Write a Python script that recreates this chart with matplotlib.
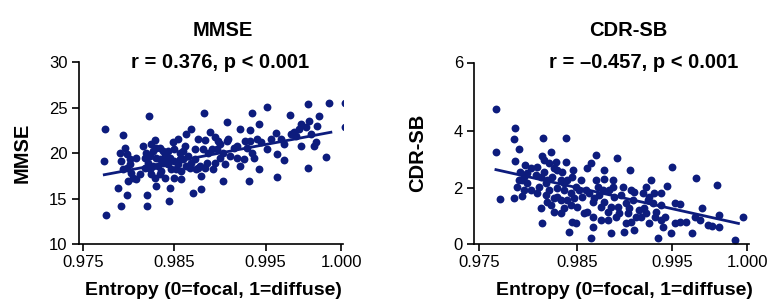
import numpy as np
import matplotlib
matplotlib.use("Agg")
import matplotlib.pyplot as plt
from matplotlib import font_manager

plt.rcParams['font.family'] = ['Liberation Sans', 'DejaVu Sans']
# tick labels in the reference are a condensed face
installed = {f.name for f in font_manager.fontManager.ttflist}
tick_font = 'Liberation Sans Narrow' if 'Liberation Sans Narrow' in installed else 'Liberation Sans'
tick_size = 13.5 if tick_font == 'Liberation Sans Narrow' else 12

# ---- data ----
mmse_x = [0.97742, 0.97735, 0.97753, 0.97940, 0.97922, 0.97977, 0.97886, 0.97904, 0.97958, 0.97922,
          0.97977, 0.98013, 0.97940, 0.97995, 0.98085, 0.98031, 0.98222, 0.98200, 0.98200, 0.98193,
          0.98211, 0.98229, 0.98247, 0.98283, 0.98301, 0.98319, 0.98283, 0.98301, 0.98338, 0.98374,
          0.98356, 0.98410, 0.98428, 0.98446, 0.98439, 0.98482, 0.98500, 0.98519, 0.98537, 0.98556,
          0.98574, 0.98593, 0.98611, 0.98622, 0.98630, 0.98685, 0.98704, 0.98722, 0.98759, 0.98796,
          0.98796, 0.98826, 0.98833, 0.98815, 0.98852, 0.98889, 0.98926, 0.98963, 0.98981, 0.99000,
          0.99037, 0.99074, 0.99092, 0.99111, 0.99222, 0.99222, 0.99259, 0.99314, 0.99333, 0.99352,
          0.99352, 0.99407, 0.99426, 0.99426, 0.99507, 0.99566, 0.99572, 0.99577, 0.99621, 0.99621,
          0.99660, 0.99686, 0.99730, 0.99734, 0.99778, 0.99785, 0.99778, 0.99818, 0.99851, 0.99840,
          0.99895, 0.99917, 1.00022, 1.00026,
          0.98175, 0.98229, 0.98265, 0.98338, 0.98392, 0.98446, 0.98464, 0.98500, 0.98537, 0.98556,
          0.98574, 0.98593, 0.98648, 0.98667, 0.98685, 0.98722, 0.98740, 0.98778, 0.98833, 0.98870,
          0.98907, 0.98944, 0.99000, 0.99037, 0.99055, 0.99148, 0.99185, 0.99296, 0.99370, 0.99444,
          0.99511, 0.99533, 0.99599, 0.99664, 0.99697, 0.99719, 0.99763, 0.99796, 0.99829, 0.97977,
          0.98013, 0.98049, 0.98121, 0.98175, 0.98247, 0.98338, 0.98392, 0.98428, 0.98500, 0.98265,
          0.98301, 0.98374, 0.98157, 0.98085, 0.98759, 0.98944, 0.99074, 0.99185, 0.99278, 0.99333]
mmse_y = [22.67, 19.15, 13.23, 22.0, 14.16, 15.45, 16.19, 20.08, 20.63, 19.15,
          18.41, 19.34, 18.23, 16.93, 17.12, 17.86, 24.08, 15.45, 14.16, 20.08,
          18.97, 18.23, 21.0, 21.45, 19.52, 18.6, 17.3, 16.38, 19.34, 20.26,
          18.04, 18.97, 20.26, 16.19, 14.71, 21.19, 19.15, 18.23, 21.56, 20.08,
          17.12, 19.34, 20.82, 22.11, 18.6, 22.67, 15.64, 20.45, 18.41, 16.01,
          17.49, 24.45, 21.45, 20.45, 18.97, 22.3, 18.23, 20.45, 21.37, 19.52,
          16.93, 23.48, 21.56, 19.71, 22.67, 18.6, 19.34, 16.93, 22.56, 24.41,
          20.08, 21.56, 23.22, 18.23, 25.15, 22.19, 19.97, 17.42, 19.23, 21.0,
          24.22, 22.3, 20.82, 23.22, 25.44, 23.59, 18.41, 20.82, 24.15, 23.04,
          19.6, 25.52, 25.52, 22.93,
          19.52, 19.71, 18.6, 20.63, 19.71, 19.52, 18.23, 20.45, 18.78, 19.34,
          18.04, 20.26, 19.71, 18.41, 18.97, 19.34, 18.23, 18.6, 18.41, 20.08,
          20.45, 18.97, 21.0, 20.08, 18.78, 20.63, 19.52, 20.63, 19.52, 21.19,
          20.45, 21.56, 21.56, 22.11, 21.93, 22.67, 22.85, 22.11, 21.19, 19.89,
          18.78, 17.3, 17.67, 18.41, 17.67, 17.67, 17.3, 18.78, 17.3, 20.26,
          20.63, 18.97, 20.82, 19.52, 21.56, 21.74, 21.37, 20.82, 21.37, 21.37]

cdr_x = [0.97668, 0.97671, 0.97712, 0.97860, 0.97856, 0.97901, 0.97866, 0.97849, 0.97935, 0.97918,
         0.97969, 0.97935, 0.97884, 0.97986, 0.98151, 0.98141, 0.98226, 0.98123, 0.98141, 0.98106,
         0.98158, 0.98192, 0.98175, 0.98226, 0.98277, 0.98295, 0.98329, 0.98380, 0.98346, 0.98397,
         0.98432, 0.98414, 0.98449, 0.98459, 0.98483, 0.98535, 0.98606, 0.98642, 0.98606, 0.98642,
         0.98660, 0.98695, 0.98677, 0.98713, 0.98748, 0.98784, 0.98819, 0.98855, 0.98890, 0.98918,
         0.98979, 0.98996, 0.99032, 0.99060, 0.99067, 0.99103, 0.99156, 0.99191, 0.99227, 0.99262,
         0.99280, 0.99309, 0.99351, 0.99404, 0.99450, 0.99486, 0.99500, 0.99551, 0.99596, 0.99633,
         0.99662, 0.99696, 0.99736, 0.99762, 0.99800, 0.99813, 0.99811, 0.99918, 0.99973, 1.00051,
         0.97952, 0.97986, 0.97901, 0.97952, 0.98021, 0.98089, 0.98123, 0.98175, 0.98209, 0.98243,
         0.98260, 0.98295, 0.98329, 0.98363, 0.98397, 0.98466, 0.98500, 0.98192, 0.98260, 0.98363,
         0.98432, 0.98483, 0.98589, 0.98624, 0.98660, 0.98695, 0.98731, 0.98766, 0.98784, 0.98837,
         0.98855, 0.98872, 0.98926, 0.98943, 0.98961, 0.99014, 0.99050, 0.99085, 0.99121, 0.99174,
         0.99209, 0.99245, 0.99298, 0.99333, 0.99387, 0.99422, 0.99518, 0.99551, 0.99651, 0.99684,
         0.99518, 0.98021, 0.98072, 0.98209, 0.98260, 0.98329, 0.98380, 0.98449, 0.98518, 0.98553,
         0.98571, 0.98660, 0.98748, 0.98819, 0.98908, 0.99014, 0.99067, 0.99227, 0.99316, 0.99387,
         0.98089, 0.98158, 0.98295, 0.98363, 0.98784, 0.98872, 0.99103, 0.99262, 0.99387]
cdr_y = [4.63, 3.27, 1.62, 4.07, 3.70, 3.35, 2.96, 1.64, 1.72, 2.58,
         2.81, 2.29, 2.06, 2.17, 3.73, 3.12, 3.27, 1.28, 0.77, 2.06,
         2.58, 2.29, 1.76, 1.40, 2.92, 2.00, 1.10, 3.76, 2.58, 2.29,
         1.82, 0.44, 0.80, 2.64, 2.06, 2.30, 2.69, 2.87, 1.16, 0.20,
         0.62, 3.16, 1.64, 2.06, 1.34, 2.33, 0.86, 0.38, 1.70, 3.04,
         2.06, 0.44, 1.10, 2.64, 1.94, 0.50, 1.22, 1.82, 2.06, 0.74,
         2.29, 1.82, 0.20, 0.62, 2.08, 0.38, 2.75, 1.44, 0.80, 0.38,
         2.35, 1.28, 0.68, 0.66, 2.10, 1.04, 0.62, 0.14, 0.96, 0.89,
         2.40, 2.52, 2.29, 1.94, 1.94, 2.75, 2.40, 2.17, 1.94, 2.40,
         1.64, 1.70, 1.58, 1.94, 1.58, 1.64, 1.34, 1.52, 1.16, 1.28,
         1.40, 0.74, 1.94, 1.82, 1.52, 2.29, 1.76, 1.94, 1.52, 1.94,
         1.34, 2.29, 1.34, 1.10, 1.76, 1.46, 1.28, 1.58, 0.98, 0.98,
         1.28, 1.58, 1.46, 1.16, 1.40, 0.98, 0.74, 0.80, 0.98, 0.86,
         1.46, 2.69, 2.46, 2.87, 2.69, 2.29, 2.92, 2.40, 1.94, 1.70,
         1.10, 0.98, 0.86, 1.16, 0.98, 0.74, 0.80, 1.10, 0.98, 0.86,
         1.82, 2.98, 2.64, 2.17, 2.64, 2.06, 1.88, 1.70, 1.82]

x_ticks = [0.975, 0.985, 0.995, 1.000]
x_tick_labels = ['0.975', '0.985', '0.995', '1.000']
mmse_ticks = [10, 15, 20, 25, 30]
cdr_ticks = [0, 2, 4, 6]
mmse_stats = 'r = 0.376, p < 0.001'
cdr_stats = 'r = \u20130.457, p < 0.001'
mmse_fit_end = 0.9993
cdr_fit_end = 0.9994

# the original axes are not evenly spaced between ticks; keep that with a piecewise scale
def piecewise(vals, pos):
    vals = np.asarray(vals, float)
    pos = np.asarray(pos, float)

    def make(a, b):
        def f(v):
            v = np.asarray(v, float)
            out = np.interp(v, a, b)
            lo_s = (b[1] - b[0]) / (a[1] - a[0])
            hi_s = (b[-1] - b[-2]) / (a[-1] - a[-2])
            out = np.where(v < a[0], b[0] + (v - a[0]) * lo_s, out)
            out = np.where(v > a[-1], b[-1] + (v - a[-1]) * hi_s, out)
            return out
        return f
    return make(vals, pos), make(pos, vals)

W, H = 767, 305
fig = plt.figure(figsize=(W / 100, H / 100), dpi=100)
navy = '#0d1c7d'

def style(ax):
    for s in ['top', 'right']:
        ax.spines[s].set_visible(False)
    for s in ['left', 'bottom']:
        ax.spines[s].set_linewidth(1.2)
    ax.tick_params(direction='out', length=5, width=1.2, labelsize=tick_size, pad=3, colors='black')
    for lab in ax.get_xticklabels() + ax.get_yticklabels():
        lab.set_fontfamily(tick_font)

def rect(x0, x1, y_top, y_bot):
    return [x0 / W, 1 - y_bot / H, (x1 - x0) / W, (y_bot - y_top) / H]

# ---- MMSE panel ----
ax1 = fig.add_axes(rect(78.7, 343, 62.5, 244))
ax1.set_xscale('function', functions=piecewise(x_ticks, [82.7, 174.3, 265.3, 341.0]))
ax1.scatter(mmse_x, mmse_y, s=32, color=navy, linewidths=0, zorder=2)
k, b = np.polyfit(mmse_x, mmse_y, 1)
lx = np.array([min(mmse_x), mmse_fit_end])
ax1.plot(lx, k * lx + b, color=navy, lw=2, zorder=3)
ax1.set_xlim(0.97456, 1.0001)
ax1.set_ylim(10, 30)
ax1.set_xticks(x_ticks, x_tick_labels)
ax1.set_yticks(mmse_ticks, [str(t) for t in mmse_ticks])
ax1.minorticks_off()
style(ax1)

# ---- CDR-SB panel ----
ax2 = fig.add_axes(rect(474, 749, 62.5, 244))
ax2.set_xscale('function', functions=piecewise(x_ticks, [479.5, 577.7, 672.5, 748.2]))
ax2.set_yscale('function', functions=piecewise(cdr_ticks, [0, 55.7, 113.3, 181.5]))
ax2.scatter(cdr_x, cdr_y, s=32, color=navy, linewidths=0, zorder=2)
k, b = np.polyfit(cdr_x, cdr_y, 1)
lx = np.array([min(cdr_x), cdr_fit_end])
ax2.plot(lx, k * lx + b, color=navy, lw=2, zorder=3)
ax2.set_xlim(0.97444, 1.0001)
ax2.set_ylim(0, 6)
ax2.set_xticks(x_ticks, x_tick_labels)
ax2.set_yticks(cdr_ticks, [str(t) for t in cdr_ticks])
ax2.minorticks_off()
style(ax2)

# ---- texts ----
bold = dict(fontsize=14.5, fontweight='bold', color='black')
fig.text(223 / W, 1 - 35.5 / H, 'MMSE', ha='center', va='baseline', **bold)
fig.text(220 / W, 1 - 67.5 / H, mmse_stats, ha='center', va='baseline', **bold)
fig.text(628 / W, 1 - 35.5 / H, 'CDR-SB', ha='center', va='baseline', **bold)
fig.text(644 / W, 1 - 67.5 / H, cdr_stats, ha='center', va='baseline', **bold)
fig.text(22 / W, 1 - 153 / H, 'MMSE', rotation=90, ha='center', va='center', **bold)
fig.text(418 / W, 1 - 153 / H, 'CDR-SB', rotation=90, ha='center', va='center', **bold)
fig.text(213 / W, 1 - 295 / H, 'Entropy (0=focal, 1=diffuse)', ha='center', va='baseline', fontsize=14, fontweight='bold')
fig.text(624 / W, 1 - 295 / H, 'Entropy (0=focal, 1=diffuse)', ha='center', va='baseline', fontsize=14, fontweight='bold')

fig.savefig('out.png', dpi=100, facecolor='white')
